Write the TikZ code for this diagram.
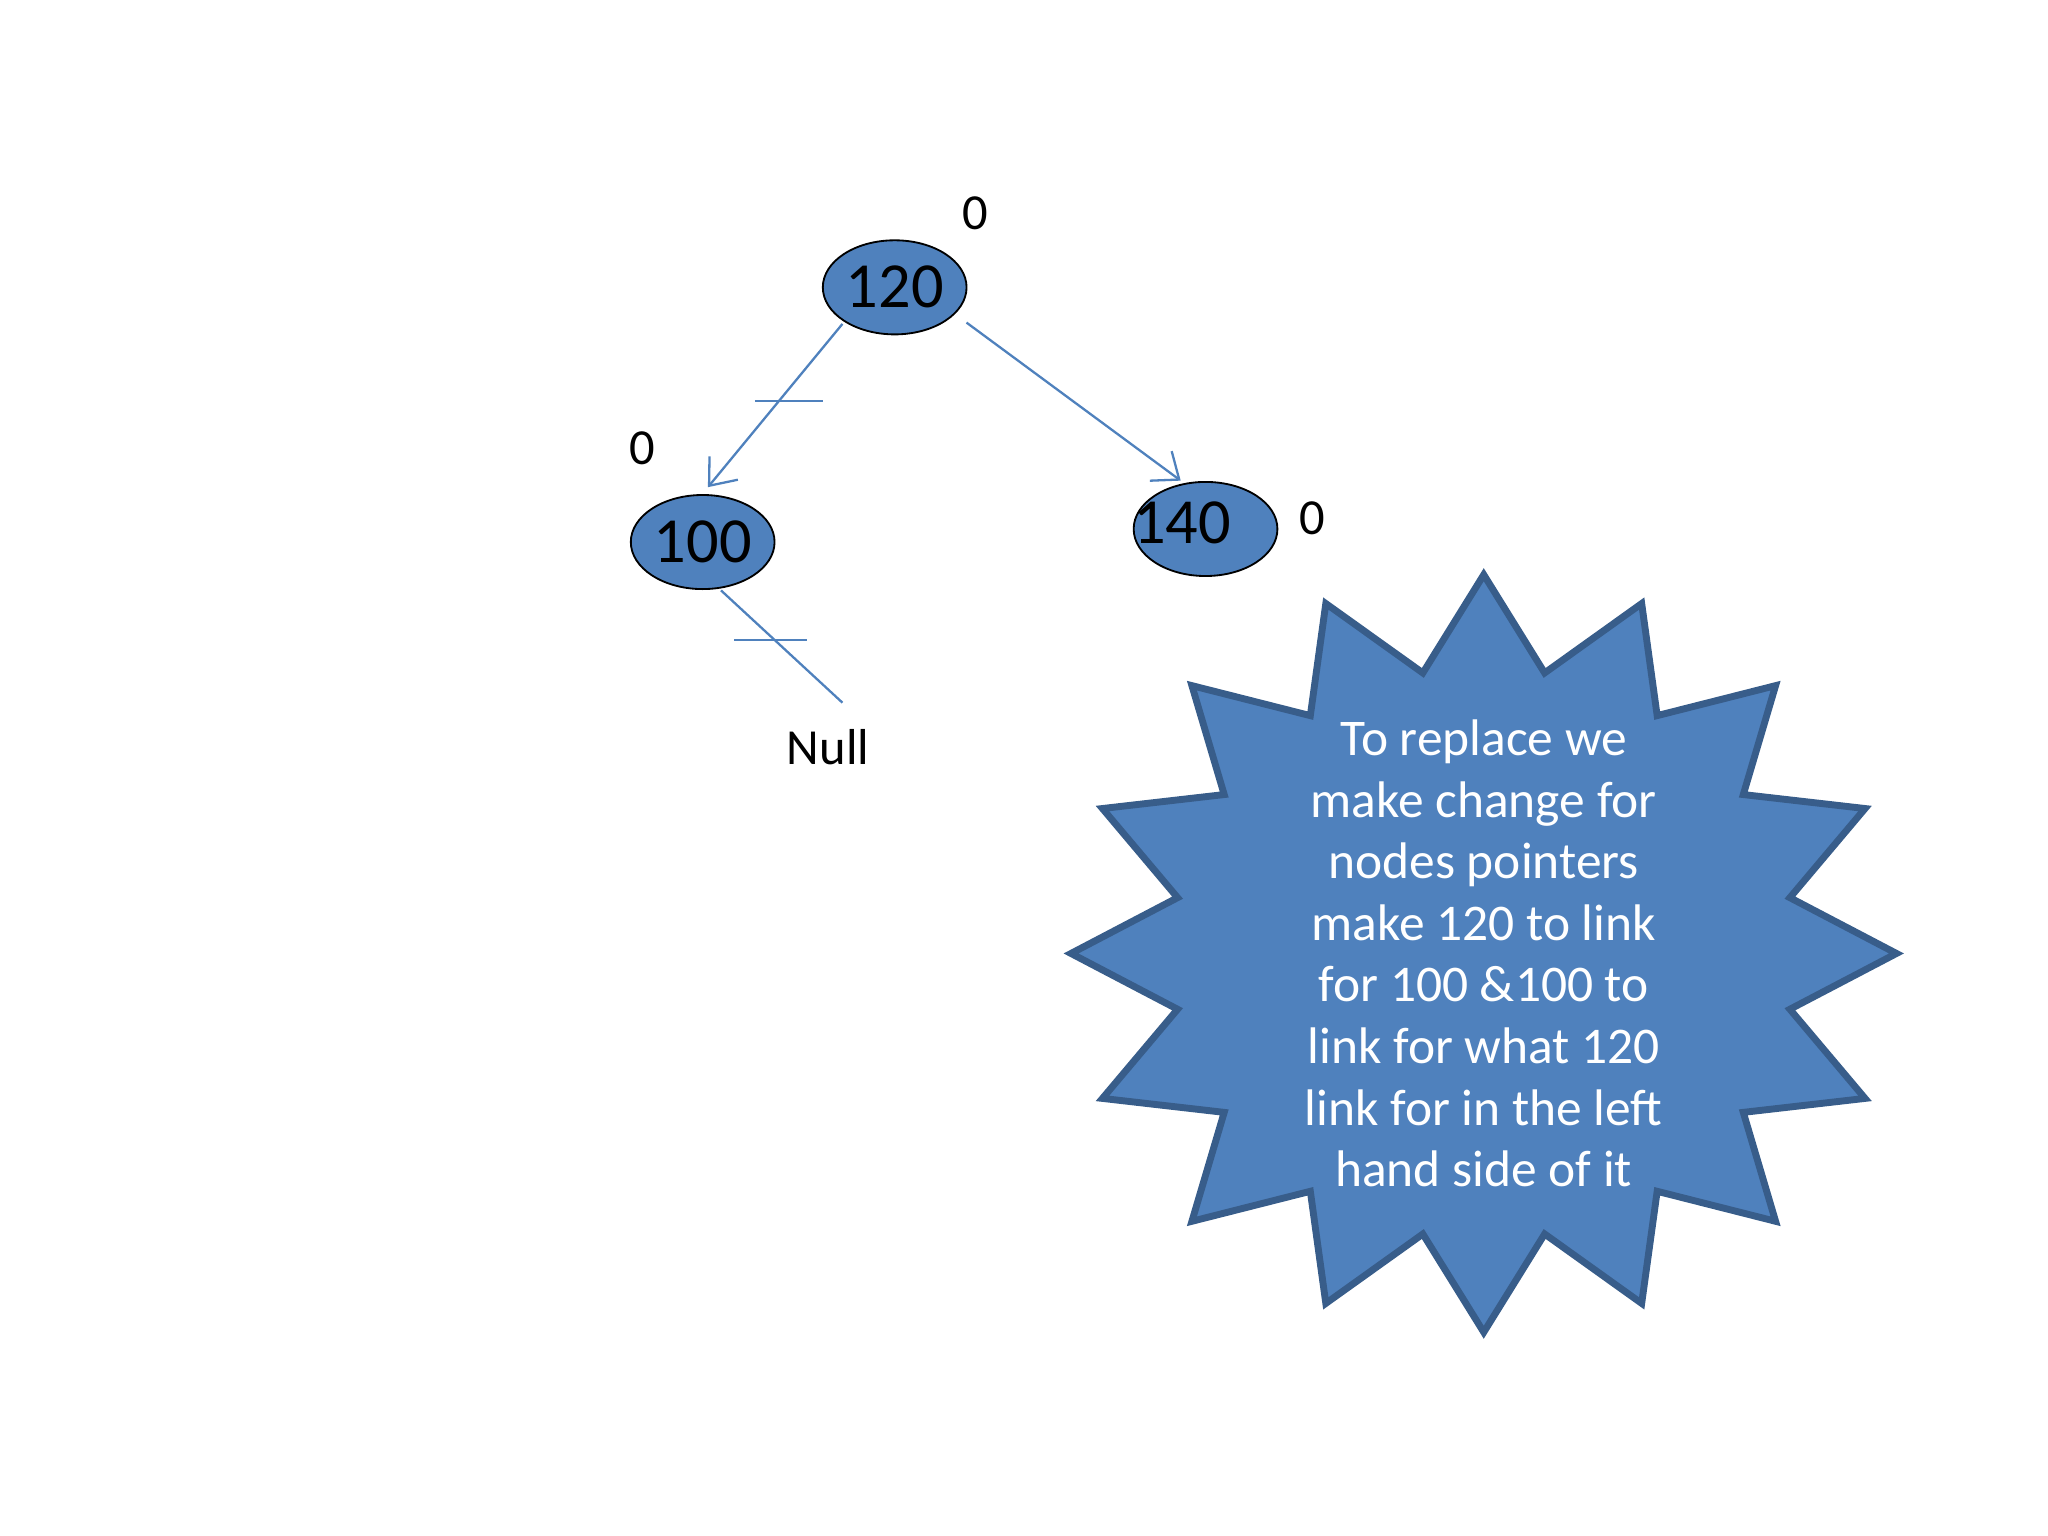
\documentclass[tikz,border=0pt]{standalone}
\usepackage{fontspec}
\setmainfont{Carlito}
\usetikzlibrary{arrows.meta,shapes.geometric}
\definecolor{fillb}{HTML}{4F81BD}
\definecolor{edgeb}{HTML}{385D8A}
\begin{document}
\begin{tikzpicture}[x=0.01cm,y=-0.01cm,
  bst/.style={ellipse,draw=black,fill=fillb,minimum width=1.1cm,minimum height=0.72cm,inner sep=0pt,font=\fontsize{14}{16}\selectfont},
  link/.style={draw=fillb,line width=0.5pt},
  lbl/.style={font=\fontsize{11}{13}\selectfont}]
\useasboundingbox (0,0) rectangle (1568,1176);
\node[bst] (n120) at (685,220) {120};
\node[bst] (n100) at (538,415) {100};
\node[bst] (n140) at (923,405) {};
\node[font=\fontsize{14}{16}\selectfont] (t140) at (905,400) {140};
\node[lbl] (z1) at (747,163) {0};
\node[lbl] (z2) at (492,343) {0};
\node[lbl] (z3) at (1005,397) {0};
\node[lbl] (null) at (634,572) {Null};
\coordinate (a1s) at (645,248); \coordinate (a1e) at (542,373);
\coordinate (a2s) at (740,247); \coordinate (a2e) at (904,368);
\coordinate (ls) at (552,452); \coordinate (le) at (645,538);
\draw[link,-{Straight Barb[length=5pt,width=8pt]}] (a1s) -- (a1e);
\draw[link,-{Straight Barb[length=5pt,width=8pt]}] (a2s) -- (a2e);
\draw[link] (ls) -- (le);
\draw[link] (578,307) -- (630,307);
\draw[link] (562,490) -- (618,490);
\draw[draw=edgeb,fill=fillb,line width=1.5pt]
  plot[samples=33,domain=0:32,variable=\i]
  ({1136+(mod(round(\i),2)==0 ? 316 : 239)*cos(90+\i*11.25)},{730-(mod(round(\i),2)==0 ? 290 : 219)*sin(90+\i*11.25)}) -- cycle;
\node[text=white,align=center,font=\fontsize{11.2}{13.4}\selectfont] (txt) at (1136,730)
 {To replace we\\make change for\\nodes pointers\\make 120 to link\\for 100 \&100 to\\link for what 120\\link for in the left\\hand side of it};
\end{tikzpicture}
\end{document}
